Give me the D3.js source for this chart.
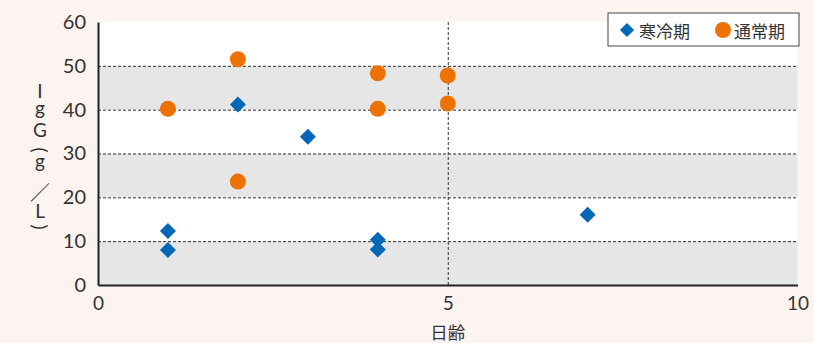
<!DOCTYPE html>
<html>
<head>
<meta charset="utf-8">
<script src="https://cdn.jsdelivr.net/npm/d3@7"></script>
<style>
  html, body { margin: 0; padding: 0; background: #fdf4f2; }
  svg { display: block; }
</style>
</head>
<body>
<div id="chart"></div>
<script>
// data
const xTicks = [0, 5, 10];
const yTicks = [0, 10, 20, 30, 40, 50, 60];
const coldX = [1, 1, 2, 3, 4, 4, 7];
const coldY = [12.3, 8.0, 41.2, 33.8, 10.3, 8.1, 16.0];
const normalX = [1, 2, 2, 4, 4, 5, 5];
const normalY = [40.2, 51.5, 23.6, 48.3, 40.2, 47.8, 41.4];
const seriesNames = ["寒冷期", "通常期"];
const xTitle = "日齢";
const yTitleChars = ["I", "g", "G", "(", "g", "／", "L", ")"];

const W = 814, H = 343;
const margin = { t: 22, r: 16, b: 58, l: 98 };
const blue = "#0068b7", orange = "#ee7203";
const numFont = "Lato, 'Noto Sans', sans-serif";
const jpFont = "'Noto Sans CJK JP', sans-serif";

const svg = d3.select("#chart").append("svg")
  .attr("width", W).attr("height", H)
  .attr("viewBox", [0, 0, W, H]);

svg.append("rect").attr("width", W).attr("height", H).attr("fill", "#fdf4f2");

const x = d3.scaleLinear().domain([0, 10]).range([margin.l, W - margin.r - 0.5]);
const y = d3.scaleLinear().domain([0, 60]).range([H - margin.b, margin.t]);

// plot background with alternating bands
const plot = svg.append("g").attr("class", "plot");
plot.append("rect")
  .attr("x", x(0)).attr("y", y(60))
  .attr("width", x(10) - x(0)).attr("height", y(0) - y(60))
  .attr("fill", "#ffffff");
plot.selectAll("rect.band")
  .data(yTicks.slice(0, -1).filter((d, i) => i % 2 === 0))
  .join("rect")
  .attr("class", "band")
  .attr("x", x(0)).attr("y", (d) => y(d + 10))
  .attr("width", x(10) - x(0)).attr("height", (d) => y(d) - y(d + 10))
  .attr("fill", "#e6e6e6");

// dashed grid
const gy = d3.axisLeft(y).tickValues(yTicks.slice(1, -1))
  .tickSizeInner(-(x(10) - x(0))).tickFormat("");
svg.append("g")
  .attr("transform", `translate(${x(0)},0)`)
  .call(gy)
  .call((g) => g.select(".domain").remove())
  .call((g) => g.selectAll("line")
    .attr("stroke", "#333").attr("stroke-width", 1).attr("stroke-dasharray", "3,2"));

const gx = d3.axisBottom(x).tickValues([5])
  .tickSizeInner(-(y(0) - y(60))).tickFormat("");
svg.append("g")
  .attr("transform", `translate(0,${y(0)})`)
  .call(gx)
  .call((g) => g.select(".domain").remove())
  .call((g) => g.selectAll("line")
    .attr("stroke", "#333").attr("stroke-width", 1).attr("stroke-dasharray", "3,2"));

// axes
const ax = d3.axisBottom(x).tickValues(xTicks).tickSize(0).tickPadding(12);
svg.append("g")
  .attr("transform", `translate(0,${y(0)})`)
  .call(ax)
  .call((g) => g.select(".domain").attr("stroke", "#222").attr("stroke-width", 2))
  .call((g) => g.selectAll("text")
    .attr("font-family", numFont).attr("font-size", 19).attr("fill", "#333"));

const ay = d3.axisLeft(y).tickValues(yTicks).tickSize(0).tickPadding(12);
svg.append("g")
  .attr("transform", `translate(${x(0)},0)`)
  .call(ay)
  .call((g) => g.select(".domain").attr("stroke", "#222").attr("stroke-width", 2))
  .call((g) => g.selectAll("text")
    .attr("font-family", numFont).attr("font-size", 20).attr("fill", "#333"));

// axis titles
svg.append("text")
  .attr("x", x(5)).attr("y", 331)
  .attr("text-anchor", "middle")
  .attr("dominant-baseline", "central")
  .attr("font-family", jpFont).attr("font-size", 17.5).attr("fill", "#333")
  .text(xTitle);

// vertical y title, one glyph per line: [y position, baseline mode, rotation]
const yTitlePos = [[98, "a", 0], [115, "a", 0], [137, "a", 0], [150, "c", 90],
  [168, "a", 0], [191, "c", 0], [218, "a", 0], [227, "c", 90]];
svg.append("g").selectAll("text")
  .data(yTitleChars)
  .join("text")
  .attr("transform", (d, i) => `translate(40,${yTitlePos[i][0]}) rotate(${yTitlePos[i][2]})`)
  .attr("text-anchor", "middle")
  .attr("dominant-baseline", (d, i) => yTitlePos[i][1] === "c" ? "central" : "alphabetic")
  .attr("font-family", (d) => d === "／" ? jpFont : numFont)
  .attr("font-size", (d) => d === "／" ? 20 : 19)
  .attr("fill", "#333")
  .text((d) => d);

// marks
const diamond = d3.symbol().type(d3.symbolSquare).size(128);
svg.append("g").selectAll("path")
  .data(coldX.map((d, i) => [d, coldY[i]]))
  .join("path")
  .attr("d", diamond)
  .attr("transform", (d) => `translate(${x(d[0])},${y(d[1])}) rotate(45)`)
  .attr("fill", blue);

svg.append("g").selectAll("circle")
  .data(normalX.map((d, i) => [d, normalY[i]]))
  .join("circle")
  .attr("cx", (d) => x(d[0])).attr("cy", (d) => y(d[1]))
  .attr("r", 8)
  .attr("fill", orange);

// legend
const legendDiamond = d3.symbol().type(d3.symbolSquare).size(100);
const legend = svg.append("g").attr("transform", "translate(608,13)");
legend.append("rect")
  .attr("width", 191).attr("height", 33)
  .attr("fill", "#fff").attr("stroke", "#444").attr("stroke-width", 1);
legend.append("path")
  .attr("d", legendDiamond)
  .attr("transform", "translate(19,17) rotate(45)")
  .attr("fill", blue);
legend.append("circle").attr("cx", 115).attr("cy", 17).attr("r", 8).attr("fill", orange);
legend.selectAll("text.lbl")
  .data(seriesNames)
  .join("text")
  .attr("class", "lbl")
  .attr("x", (d, i) => i === 0 ? 31 : 126)
  .attr("y", 17)
  .attr("dominant-baseline", "central")
  .attr("font-family", jpFont).attr("font-size", 17).attr("fill", "#333")
  .text((d) => d);
</script>
</body>
</html>
